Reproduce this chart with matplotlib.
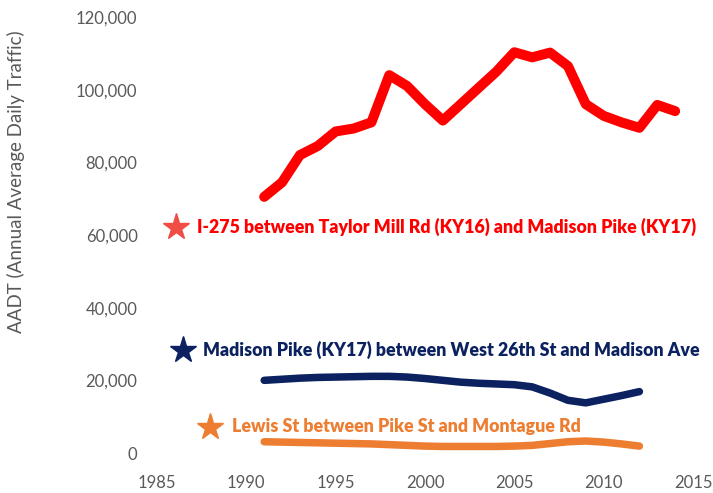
import matplotlib
matplotlib.use("Agg")
import matplotlib.pyplot as plt
from matplotlib.ticker import FuncFormatter

# AADT values (thousands of vehicles per day)
years_i275 = list(range(1991, 2015))
aadt_i275 = [70.5, 74.5, 82.0, 84.5, 88.5, 89.3, 91.0, 104.0, 101.0, 96.0, 91.5, 96.0,
             100.5, 105.0, 110.3, 108.9, 110.2, 106.5, 96.0, 92.8, 91.0, 89.5, 95.8, 94.1]

years_local = list(range(1991, 2013))
aadt_madison = [20.0, 20.3, 20.6, 20.8, 20.9, 21.0, 21.1, 21.1, 20.9, 20.5, 20.0, 19.5,
                19.2, 19.0, 18.8, 18.2, 16.5, 14.5, 13.8, 14.8, 15.8, 16.9]
aadt_lewis = [3.1, 3.0, 2.9, 2.8, 2.7, 2.6, 2.5, 2.3, 2.1, 1.9, 1.8, 1.8,
              1.8, 1.8, 1.9, 2.1, 2.6, 3.1, 3.3, 3.0, 2.5, 1.9]

label_i275 = "I-275 between Taylor Mill Rd (KY16) and Madison Pike (KY17)"
label_madison = "Madison Pike (KY17) between West 26th St and Madison Ave"
label_lewis = "Lewis St between Pike St and Montague Rd"

red = "#FF0000"
navy = "#0B2160"
orange = "#ED7D31"
grey = "#595959"

plt.rcParams['font.family'] = ['Lato', 'DejaVu Sans']

fig = plt.figure(figsize=(7.13, 4.93), dpi=100)
ax = fig.add_axes([157 / 713, 40 / 493, 536 / 713, 436 / 493])

ax.plot(years_i275, [v * 1000 for v in aadt_i275], color=red, lw=7.2,
        solid_capstyle='round', solid_joinstyle='round')
ax.plot(years_local, [v * 1000 for v in aadt_madison], color=navy, lw=5.4,
        solid_capstyle='round', solid_joinstyle='round')
ax.plot(years_local, [v * 1000 for v in aadt_lewis], color=orange, lw=5.4,
        solid_capstyle='round', solid_joinstyle='round')

# star + label annotations
ax.plot([1986.06], [62200], marker='*', ms=20, color="#F04E45", clip_on=False)
ax.text(1987.24, 62200, label_i275, color=red, fontsize=12.8, fontweight='heavy',
        va='center', ha='left')
ax.plot([1986.45], [28400], marker='*', ms=20, color=navy, clip_on=False)
ax.text(1987.57, 28400, label_madison, color=navy, fontsize=12.8, fontweight='heavy',
        va='center', ha='left')
ax.plot([1987.97], [7200], marker='*', ms=20, color=orange, clip_on=False)
ax.text(1989.2, 7200, label_lewis, color=orange, fontsize=12.8, fontweight='heavy',
        va='center', ha='left')

ax.set_xlim(1985, 2015)
ax.set_ylim(0, 120000)
ax.set_xticks(range(1985, 2016, 5))
ax.set_yticks(range(0, 120001, 20000))
ax.yaxis.set_major_formatter(FuncFormatter(lambda v, p: f"{int(v):,}"))
ax.tick_params(length=0, labelsize=12, labelcolor=grey)
ax.tick_params(axis='y', pad=14)
ax.tick_params(axis='x', pad=16)
for s in ax.spines.values():
    s.set_visible(False)

fig.text(16 / 713, 1 - 182 / 493, "AADT (Annual Average Daily Traffic)", rotation=90,
         color=grey, fontsize=13.5, ha='center', va='center')

fig.savefig("out.png", dpi=100)
